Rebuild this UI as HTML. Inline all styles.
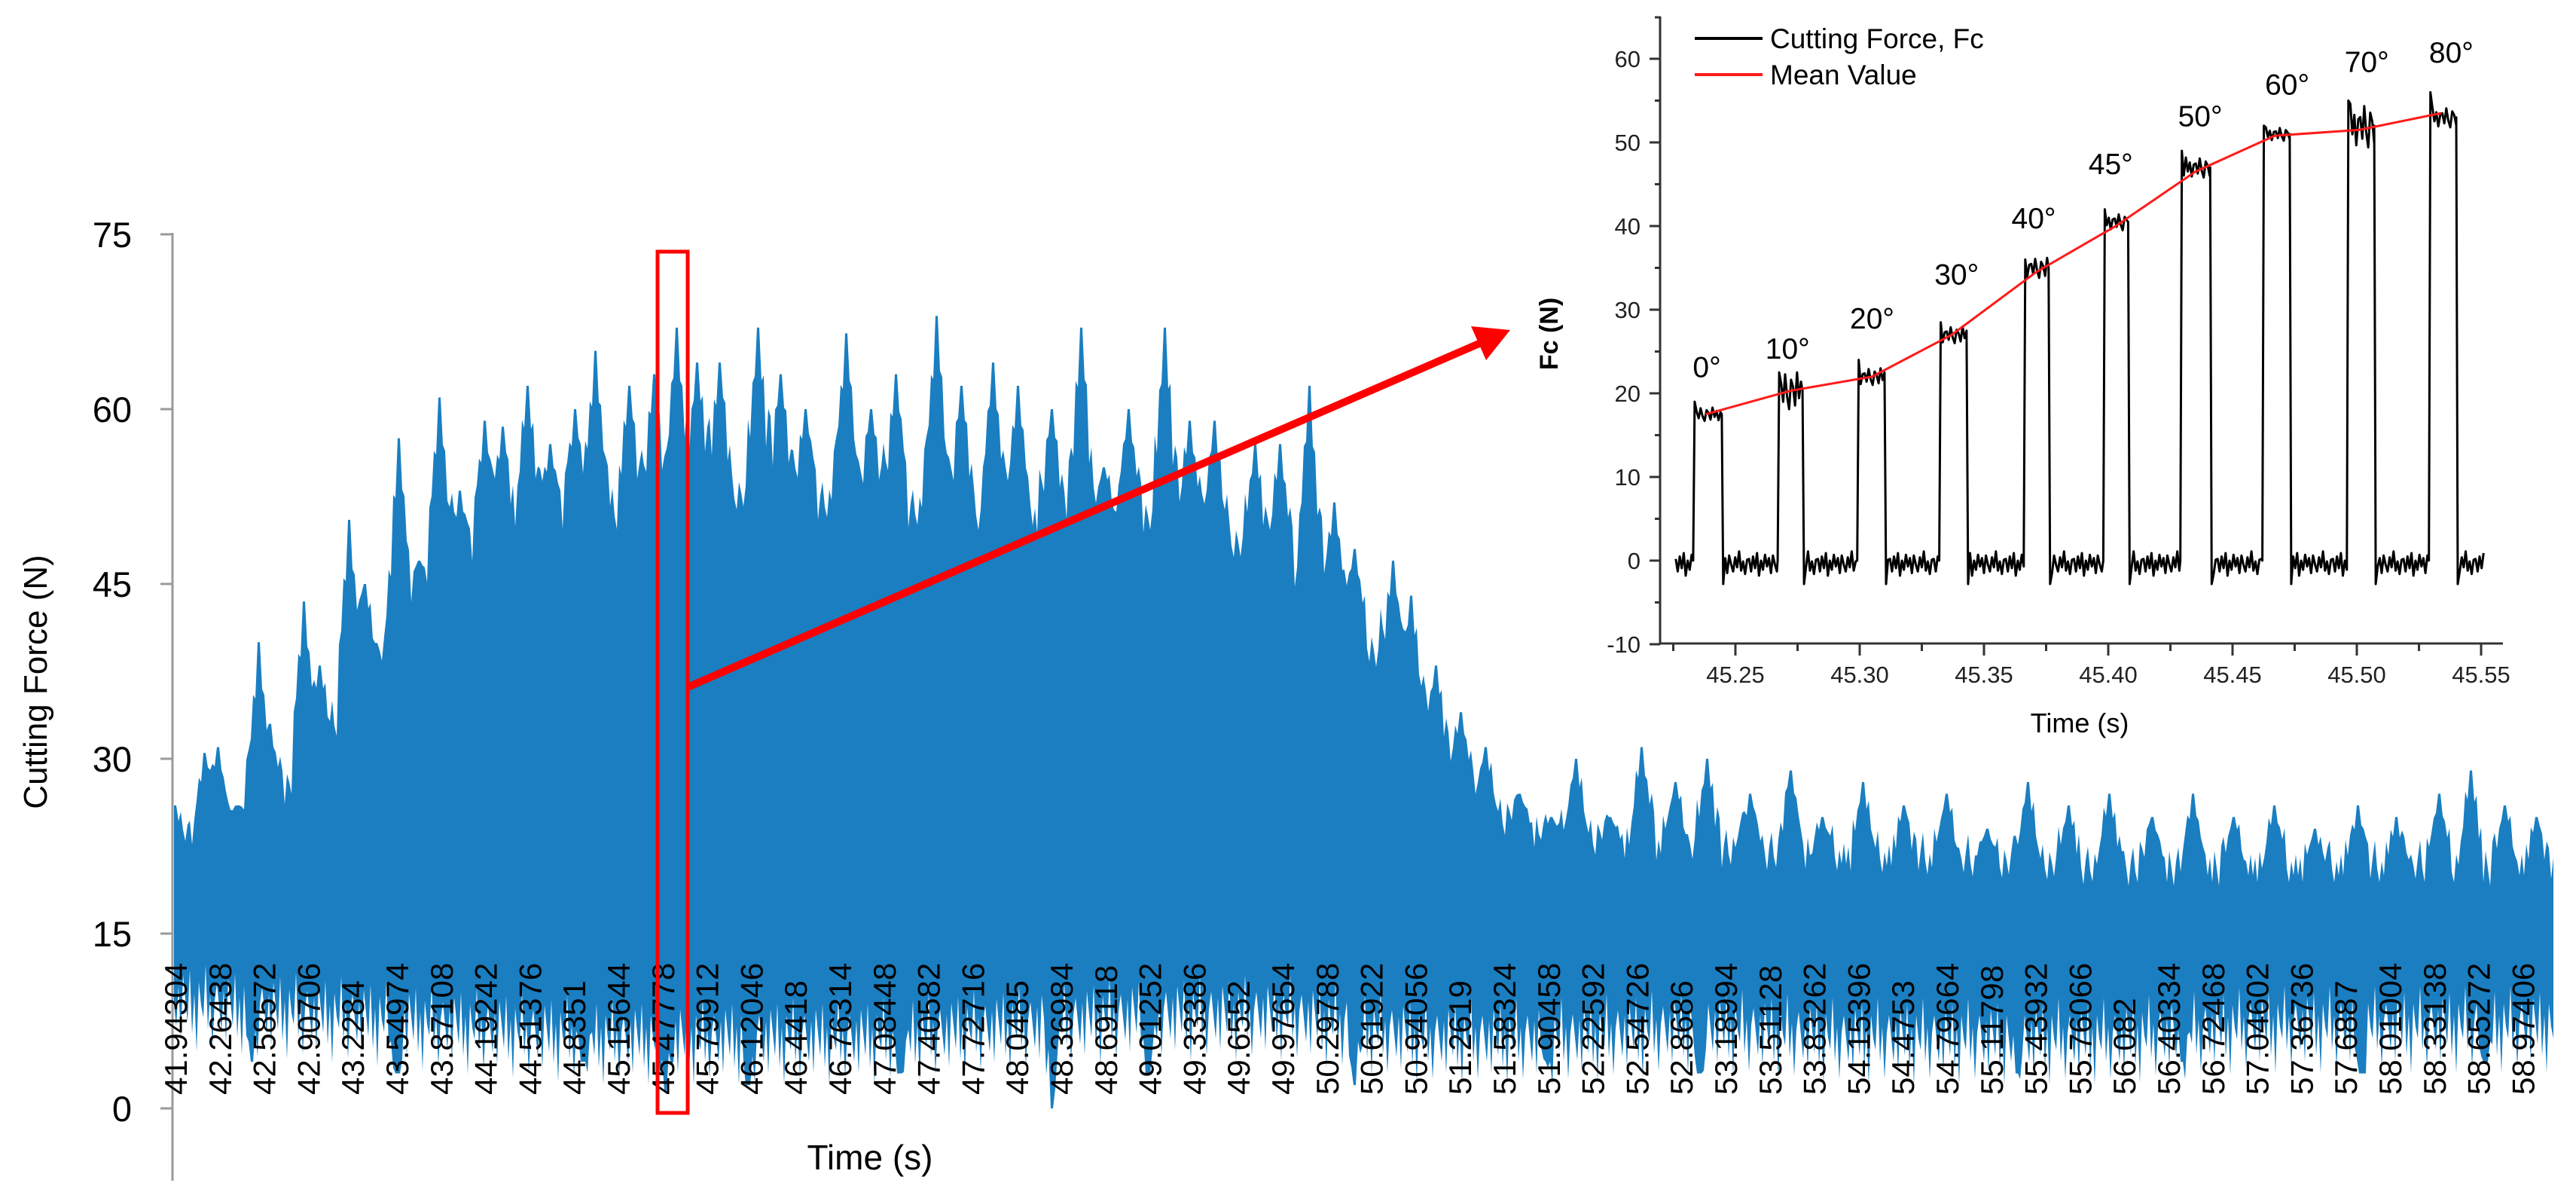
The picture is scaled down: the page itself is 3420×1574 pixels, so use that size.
<!DOCTYPE html>
<html><head><meta charset="utf-8"><style>
html,body{margin:0;padding:0;background:#fff;}
svg{display:block;font-family:"Liberation Sans",Arial,sans-serif;}
</style></head><body>
<svg id="chart" width="3420" height="1574" viewBox="0 0 3420 1574" xmlns="http://www.w3.org/2000/svg">
<g id="main"></g>
<g id="inset"></g>
</svg>
<script>
// ---------- MAIN CHART DATA ----------
const mainTickLabels = ["41.94304","42.26438","42.58572","42.90706","43.2284","43.54974","43.87108","44.19242","44.51376","44.8351","45.15644","45.47778","45.79912","46.12046","46.4418","46.76314","47.08448","47.40582","47.72716","48.0485","48.36984","48.69118","49.01252","49.33386","49.6552","49.97654","50.29788","50.61922","50.94056","51.2619","51.58324","51.90458","52.22592","52.54726","52.8686","53.18994","53.51128","53.83262","54.15396","54.4753","54.79664","55.11798","55.43932","55.76066","56.082","56.40334","56.72468","57.04602","57.36736","57.6887","58.01004","58.33138","58.65272","58.97406"];
const mainYTicks = [0,15,30,45,60,75];
const peakTimes = [41.945,42.159,42.255,42.398,42.540,42.636,42.874,42.993,43.208,43.315,43.565,43.708,43.863,44.006,44.185,44.316,44.506,44.661,44.840,44.995,45.233,45.412,45.579,45.733,45.888,46.174,46.329,46.508,46.806,46.984,47.163,47.461,47.640,47.878,48.057,48.295,48.509,48.676,48.867,49.129,49.308,49.486,49.784,49.963,50.177,50.344,50.499,50.773,50.916,51.095,51.273,51.452,51.690,51.929,52.107,52.346,52.584,52.822,53.061,53.36,53.66,53.89,54.19,54.49,54.79,55.09,55.38,55.68,55.98,56.28,56.58,56.87,57.17,57.47,57.77,58.06,58.36,58.60,58.84,59.08];
const peakValues = [26,30.5,31,26,40,33,43.5,38,50.5,45,57.5,47,61,53,59,58.5,62,57,60,65,62,63,67,64,64,67,63,60,66.5,60,63,68,62,64,62,60,67,55,60,67,59,59,57,57,62,52,48,47,44,38,34,31,27,25,30,25,31,28,30,27,29,25,28,26,27,24,28,26,27,25,27,25,26,24,26,25,27,29,26,25];
const baseTimes = [41.94,42.3,42.6,43.0,43.4,43.8,44.2,44.6,45.0,45.5,46.0,47.0,48.0,49.0,49.6,50.0,50.4,50.8,51.1,51.4,51.8,52.5,54.0,56.0,58.0,59.2];
const baseValues = [22,23,25,30,38,45,48,50,50,51,52,51,50,50,48,46,42,36,30,25,23,22,21,20,20,20];
const topJitter = [0,2.5,-1,3.5,1,-1.5,2,4,0.5,-1,3,1.5,-0.5,2.5,5,1,-1,2,0,3];
const lowTimes = [41.94,43,44,45,46,47,48,49,50,51,52,53,54,55,56,57,58,59.2];
const lowValues = [9,8,7,6,6,6,7,8,8,6,6,7,6,6,6,7,7,7];
const lowJitter = [0,-2,1.5,-3,2.5,0.5,-1.5,3,-2.5,1,-4,2,0,-1,3.5,-2,1,-3.5,0.5,2];
const dipTimes = [42.5,43.55,44.9,45.5,46.1,47.2,48.3,49.0,50.5,51.9,53.0,55.3,56.5,57.8,58.7];
const dipValues = [4,3,4,1.5,2,3,0,3,2,4,3,3,4,3,4];

// ---------- INSET DATA ----------
const pulseRise = [45.233,45.267,45.299,45.332,45.366,45.398,45.429,45.462,45.496,45.529];
const pulseFall = [45.2445,45.277,45.310,45.343,45.376,45.408,45.441,45.473,45.507,45.540];
const pulseLevel = [17.5,20.3,22,27,35,40.5,47,51,52,53];
const pulsePeak = [19,22.5,24,28.5,36,42,49,52,55,56];
const pulseNoiseAmp = [0.8,2.2,1,1,1.2,1,1.2,0.8,2.6,1.2];
const baseNoise = [0.5,-1,0.8,-0.6,1.2,-1.5,0.3,-0.8,1,-0.4,0.6,-1.2,0.9,-0.2,-1,0.7,-0.5,1.4,-0.9,0.2,-1.3,0.4];
const plateauNoise = [0.4,-0.6,0.9,-0.3,-1,0.6,0.2,-0.8,1,-0.4,0.5,-0.9,0.3];
const meanTimes = [45.238,45.272,45.305,45.337,45.371,45.403,45.435,45.467,45.501,45.534];
const meanValues = [17.5,20.3,22,27,34.5,40,46.5,50.8,51.5,53.5];
const angleLabels = ["0°","10°","20°","30°","40°","45°","50°","60°","70°","80°"];
const angleLabelT = [45.2385,45.271,45.305,45.339,45.370,45.401,45.437,45.472,45.504,45.538];
const angleLabelV = [23.2,25.4,29,34.3,41,47.5,53.2,57,59.7,60.8];
const insetYTicks = [-10,0,10,20,30,40,50,60];
const insetXTicks = ["45.25","45.30","45.35","45.40","45.45","45.50","45.55"];

{
const NS="http://www.w3.org/2000/svg";
function mk(parent,tag,attrs,text){const e=document.createElementNS(NS,tag);for(const k in attrs)e.setAttribute(k,attrs[k]);if(text!==undefined)e.textContent=text;parent.appendChild(e);return e;}
function interp(ts,vs,t){if(t<=ts[0])return vs[0];for(let i=1;i<ts.length;i++){if(t<=ts[i]){const f=(t-ts[i-1])/(ts[i]-ts[i-1]);return vs[i-1]+f*(vs[i]-vs[i-1]);}}return vs[vs.length-1];}

// ---------- MAIN ----------
const main=document.getElementById('main');
const T0=41.94304, TSTEP=0.32134, PX=58.8, X0=233;
const mx=t=>X0+(t-T0)/TSTEP*PX;
const my=v=>1471-v*15.467;
const tOf=x=>T0+(x-X0)/PX*TSTEP;

const topPts=[],botPts=[];
let n=0;
for(let x=231;x<=3392;x+=3){
  const tt=tOf(x);
  let v=interp(baseTimes,baseValues,tt)+topJitter[n%topJitter.length]*0.6;
  for(let i=0;i<peakTimes.length;i++){
    const d=Math.abs(x-mx(peakTimes[i]));const p=peakValues[i];
    let c=-1;
    if(d<=3)c=p;else if(d<=9)c=p-(p-v)*0.3;else if(d<=16)c=p-(p-v)*0.65;
    if(c>v)v=c;
  }
  topPts.push(x+','+my(v).toFixed(1));
  let lo=interp(lowTimes,lowValues,tt)+lowJitter[n%lowJitter.length];
  for(let i=0;i<dipTimes.length;i++){const d=Math.abs(x-mx(dipTimes[i]));if(d<=4)lo=Math.min(lo,dipValues[i]);else if(d<=9)lo=Math.min(lo,(lo+dipValues[i])/2);}
  botPts.push(x+','+my(lo).toFixed(1));
  n++;
}
const area=mk(main,'polygon',{points:topPts.concat(botPts.reverse()).join(' '),fill:'#1a7ec1'});



const yAxis=mk(main,'line',{x1:229,y1:309,x2:229,y2:1567,stroke:'#9a9a9a','stroke-width':3});


mainYTicks.forEach(v=>{
  mk(main,'line',{x1:213,y1:my(v),x2:229,y2:my(v),stroke:'#9a9a9a','stroke-width':3});
  const tl=mk(main,'text',{x:175,y:my(v)+17,'font-size':47,'text-anchor':'end',fill:'#000'},String(v));
  
  
});
mainTickLabels.forEach((s,i)=>{
  const x=X0+i*PX+15,y=1453;
  const tl=mk(main,'text',{x:x,y:y,'font-size':42,fill:'#000',transform:`rotate(-90 ${x} ${y})`},s);
  
  
});
const yt=mk(main,'text',{x:62,y:905,'font-size':44,'text-anchor':'middle',fill:'#000',transform:'rotate(-90 62 905)'},'Cutting Force (N)');


const xt=mk(main,'text',{x:1155,y:1552,'font-size':46,'text-anchor':'middle',fill:'#000'},'Time (s)');



const box=mk(main,'rect',{x:873,y:334,width:40,height:1143,fill:'none',stroke:'#ff0000','stroke-width':5});


const arr=mk(main,'line',{x1:913,y1:912,x2:1966,y2:455,stroke:'#ff0000','stroke-width':10});


const head=mk(main,'polygon',{points:'2005,438 1973,478 1953,433',fill:'#ff0000'});



// ---------- INSET ----------
const ins=document.getElementById('inset');
const ix=t=>2304+(t-45.25)*3300;
const iy=v=>744-v*11.1;
const pts=[];let k=0,j=0;
let tc=45.226;
const step=0.0008;
for(let p=0;p<=pulseRise.length;p++){
  const end=p<pulseRise.length?pulseRise[p]:45.551;
  let first=true;
  while(tc<end){
    let v=baseNoise[k%baseNoise.length]-0.3;k++;
    if(first&&p>0){v=-2.8;first=false;}
    pts.push(ix(tc).toFixed(1)+','+iy(v).toFixed(1));tc+=step;
  }
  if(p<pulseRise.length){
    pts.push(ix(pulseRise[p]).toFixed(1)+','+iy(0).toFixed(1));
    pts.push(ix(pulseRise[p]+0.0006).toFixed(1)+','+iy(pulsePeak[p]).toFixed(1));
    tc=pulseRise[p]+0.0014;
    while(tc<pulseFall[p]){
      const v=pulseLevel[p]+plateauNoise[j%plateauNoise.length]*pulseNoiseAmp[p];j++;
      pts.push(ix(tc).toFixed(1)+','+iy(v).toFixed(1));tc+=step;
    }
    pts.push(ix(pulseFall[p]).toFixed(1)+','+iy(pulseLevel[p]).toFixed(1));
    tc=pulseFall[p]+0.0006;
  }
}
const sig=mk(ins,'polyline',{points:pts.join(' '),fill:'none',stroke:'#000','stroke-width':3,'stroke-linejoin':'round'});


const meanPts=meanTimes.map((tt,i)=>ix(tt).toFixed(1)+','+iy(meanValues[i]).toFixed(1)).join(' ');
const ml=mk(ins,'polyline',{points:meanPts,fill:'none',stroke:'#ff1a1a','stroke-width':3});


angleLabels.forEach((s,i)=>{
  const a=mk(ins,'text',{x:ix(angleLabelT[i]),y:iy(angleLabelV[i])+14,'font-size':39,'text-anchor':'middle',fill:'#000'},s);
  
  
});
const iya=mk(ins,'line',{x1:2204,y1:22,x2:2204,y2:855,stroke:'#333','stroke-width':3});


mk(ins,'line',{x1:2197,y1:23,x2:2205,y2:23,stroke:'#333','stroke-width':3});
const ixa=mk(ins,'line',{x1:2203,y1:854,x2:3323,y2:854,stroke:'#333','stroke-width':3});


insetYTicks.forEach(v=>{
  mk(ins,'line',{x1:2190,y1:iy(v),x2:2204,y2:iy(v),stroke:'#333','stroke-width':3});
  if(v<60)mk(ins,'line',{x1:2197,y1:iy(v+5),x2:2204,y2:iy(v+5),stroke:'#333','stroke-width':3});
  const tl=mk(ins,'text',{x:2178,y:iy(v)+11,'font-size':31,'text-anchor':'end',fill:'#222'},String(v));
  
  
});
insetXTicks.forEach(s=>{
  const v=parseFloat(s);
  mk(ins,'line',{x1:ix(v),y1:854,x2:ix(v),y2:870,stroke:'#333','stroke-width':3});
  mk(ins,'line',{x1:ix(v-0.025),y1:854,x2:ix(v-0.025),y2:864,stroke:'#333','stroke-width':3});
  const tl=mk(ins,'text',{x:ix(v),y:906,'font-size':31,'text-anchor':'middle',fill:'#222'},s);
  
  
});
const ixt=mk(ins,'text',{x:2761,y:972,'font-size':36,'text-anchor':'middle',fill:'#000'},'Time (s)');


const iyt=mk(ins,'text',{x:2068,y:443,'font-size':34,'font-weight':'bold','text-anchor':'middle',fill:'#000',transform:'rotate(-90 2068 443)'},'Fc (N)');


const lg=mk(ins,'g',{});


mk(lg,'line',{x1:2250,y1:51,x2:2340,y2:51,stroke:'#000','stroke-width':4});
mk(lg,'line',{x1:2250,y1:99,x2:2340,y2:99,stroke:'#ff1a1a','stroke-width':4});
const l1=mk(lg,'text',{x:2350,y:64,'font-size':37,fill:'#000'},'Cutting Force, Fc');


const l2=mk(lg,'text',{x:2350,y:112,'font-size':37,fill:'#000'},'Mean Value');


}
</script>
</body></html>
